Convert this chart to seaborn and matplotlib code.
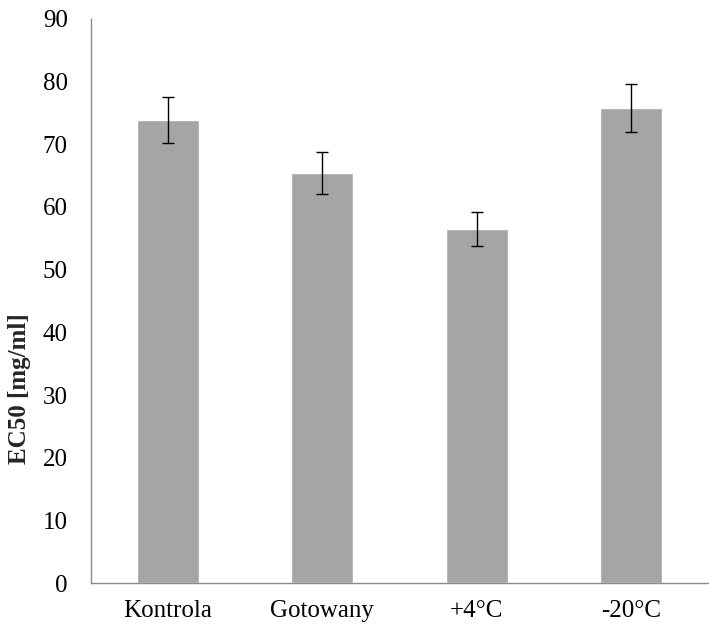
import pandas as pd
import seaborn as sns
import matplotlib.pyplot as plt

# Daten
categories = ['Kontrola', 'Gotowany', '+4°C', '-20°C']
ec50 = [73.9, 65.4, 56.5, 75.8]
err = [3.7, 3.35, 2.75, 3.8]

df = pd.DataFrame({'Probe': categories, 'EC50': ec50, 'SD': err})

sns.set_style('white')
plt.rcParams['font.family'] = ['Liberation Serif', 'DejaVu Serif']

fig = plt.figure(figsize=(7.09, 6.25), dpi=100)
ax = fig.add_axes([0.128, 0.067, 0.871, 0.903])

sns.barplot(data=df, x='Probe', y='EC50', color='#A5A5A5', saturation=1,
            width=0.4, errorbar=None, ax=ax)
ax.errorbar(range(len(categories)), df['EC50'], yerr=df['SD'], fmt='none',
            ecolor='black', elinewidth=1, capsize=4.5, capthick=1)

ax.set_ylim(0, 90)
ax.set_yticks(range(0, 91, 10))
ax.set_xlim(-0.5, len(categories) - 0.5)
ax.set_xlabel('')
ax.set_ylabel('EC50 [mg/ml]', fontsize=18, fontweight='bold')
ax.yaxis.set_label_coords(-0.096, 0.345)
ax.tick_params(axis='both', length=0, labelsize=18, colors='black')
ax.tick_params(axis='x', pad=12)
ax.tick_params(axis='y', pad=16.5)

for s in ['top', 'right']:
    ax.spines[s].set_visible(False)
for s in ['left', 'bottom']:
    ax.spines[s].set_color('#8C8C8C')
    ax.spines[s].set_linewidth(1)

fig.savefig('out.png', dpi=100)
